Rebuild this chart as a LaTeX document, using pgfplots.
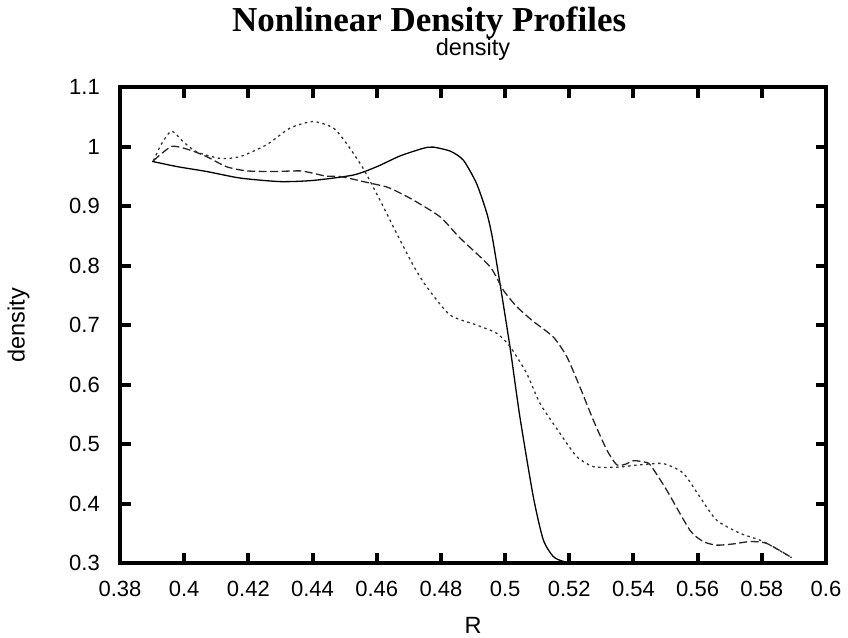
\documentclass[border=0pt]{standalone}
\usepackage{pgfplots}
\pgfplotsset{compat=1.18}
\usepackage{fontspec}
\setmainfont{Liberation Sans}
\newfontfamily\titlefont{Liberation Serif}
\begin{document}
\begin{tikzpicture}
\useasboundingbox (-120pt,-74pt) rectangle (728pt,563pt);
\begin{axis}[
  name=ax,
  scale only axis,
  width=706pt, height=476pt,
  xmin=0.38, xmax=0.6, ymin=0.3, ymax=1.1,
  xtick={0.38,0.40,0.42,0.44,0.46,0.48,0.50,0.52,0.54,0.56,0.58,0.60},
  xticklabels={0.38,0.4,0.42,0.44,0.46,0.48,0.5,0.52,0.54,0.56,0.58,0.6},
  ytick={0.3,0.4,0.5,0.6,0.7,0.8,0.9,1.0,1.1},
  yticklabels={0.3,0.4,0.5,0.6,0.7,0.8,0.9,1,1.1},
  axis line style={line width=4.2pt},
  tick align=inside,
  major tick length=10.5pt,
  tick style={line width=4pt, black},
  ticklabel style={font=\fontsize{22}{26}\selectfont, inner sep=0pt},
  xticklabel style={anchor=base, yshift=-33pt},
  yticklabel style={anchor=east, xshift=-20pt},
  xlabel={R},
  xlabel style={at={(axis description cs:0.5,0)}, anchor=base, yshift=-70.3pt, inner sep=0pt, font=\fontsize{23.5}{27}\selectfont},
  ylabel={density},
  ylabel style={at={(axis description cs:0,0.5)}, anchor=center, yshift=101.5pt, inner sep=0pt, font=\fontsize{23.5}{27}\selectfont},
]
% solid
\addplot[black, line width=1.3pt, smooth, tension=0.4] coordinates {
(0.3900,0.975) (0.3980,0.966) (0.4070,0.958) (0.4174,0.947) (0.4299,0.941)
(0.4402,0.943) (0.4527,0.952) (0.4600,0.966) (0.4672,0.984) (0.4745,0.997)
(0.4776,0.999) (0.4830,0.992) (0.4870,0.977) (0.4911,0.938) (0.4943,0.888)
(0.4960,0.848) (0.4984,0.770) (0.5015,0.664) (0.5046,0.546) (0.5088,0.411)
(0.5119,0.339) (0.5150,0.311) (0.5180,0.303) (0.5220,0.301) (0.5890,0.301)
};
% dashed
\addplot[black!85, line width=1.3pt, dash pattern=on 8pt off 3.5pt, smooth, tension=0.4] coordinates {
(0.3904,0.976) (0.3961,1.000) (0.4018,0.994) (0.4070,0.983) (0.4132,0.966)
(0.4195,0.959) (0.4278,0.958) (0.4361,0.959) (0.4402,0.955) (0.4444,0.950)
(0.4480,0.950) (0.4527,0.945) (0.4558,0.941) (0.4631,0.932) (0.4672,0.922)
(0.4714,0.910) (0.4797,0.882) (0.4860,0.846) (0.4953,0.798) (0.4994,0.759)
(0.5036,0.731) (0.5088,0.706) (0.5150,0.680) (0.5192,0.647) (0.5233,0.596)
(0.5275,0.540) (0.5317,0.490) (0.5348,0.465) (0.5375,0.466) (0.5400,0.472)
(0.5430,0.470) (0.5452,0.465) (0.5503,0.423) (0.5576,0.355) (0.5618,0.336)
(0.5659,0.330) (0.5710,0.332) (0.5763,0.336) (0.5815,0.333) (0.5893,0.309)
};
% dotted
\addplot[black!80, line width=1.3pt, dash pattern=on 2.5pt off 3.5pt, smooth, tension=0.4] coordinates {
(0.3904,0.976) (0.3930,1.005) (0.3961,1.026) (0.3997,1.008) (0.4039,0.991)
(0.4112,0.980) (0.4174,0.983) (0.4257,1.003) (0.4330,1.031) (0.4402,1.042)
(0.4465,1.031) (0.4506,1.005) (0.4558,0.963) (0.4610,0.910) (0.4662,0.854)
(0.4714,0.800) (0.4756,0.764) (0.4828,0.717) (0.4911,0.700) (0.4974,0.686)
(0.5015,0.664) (0.5067,0.619) (0.5109,0.568) (0.5171,0.518) (0.5223,0.479)
(0.5275,0.462) (0.5348,0.461) (0.5420,0.465) (0.5493,0.467) (0.5555,0.451)
(0.5607,0.411) (0.5659,0.372) (0.5732,0.350) (0.5805,0.336) (0.5893,0.309)
};
\end{axis}
\node[anchor=base west, inner sep=0pt, font=\titlefont\bfseries\fontsize{35}{40}\selectfont] at ([xshift=112pt, yshift=55.3pt]ax.north west) {Nonlinear Density Profiles};
\node[anchor=base, inner sep=0pt, font=\fontsize{23.5}{27}\selectfont] at ([yshift=32pt]ax.north) {density};
\end{tikzpicture}
\end{document}
